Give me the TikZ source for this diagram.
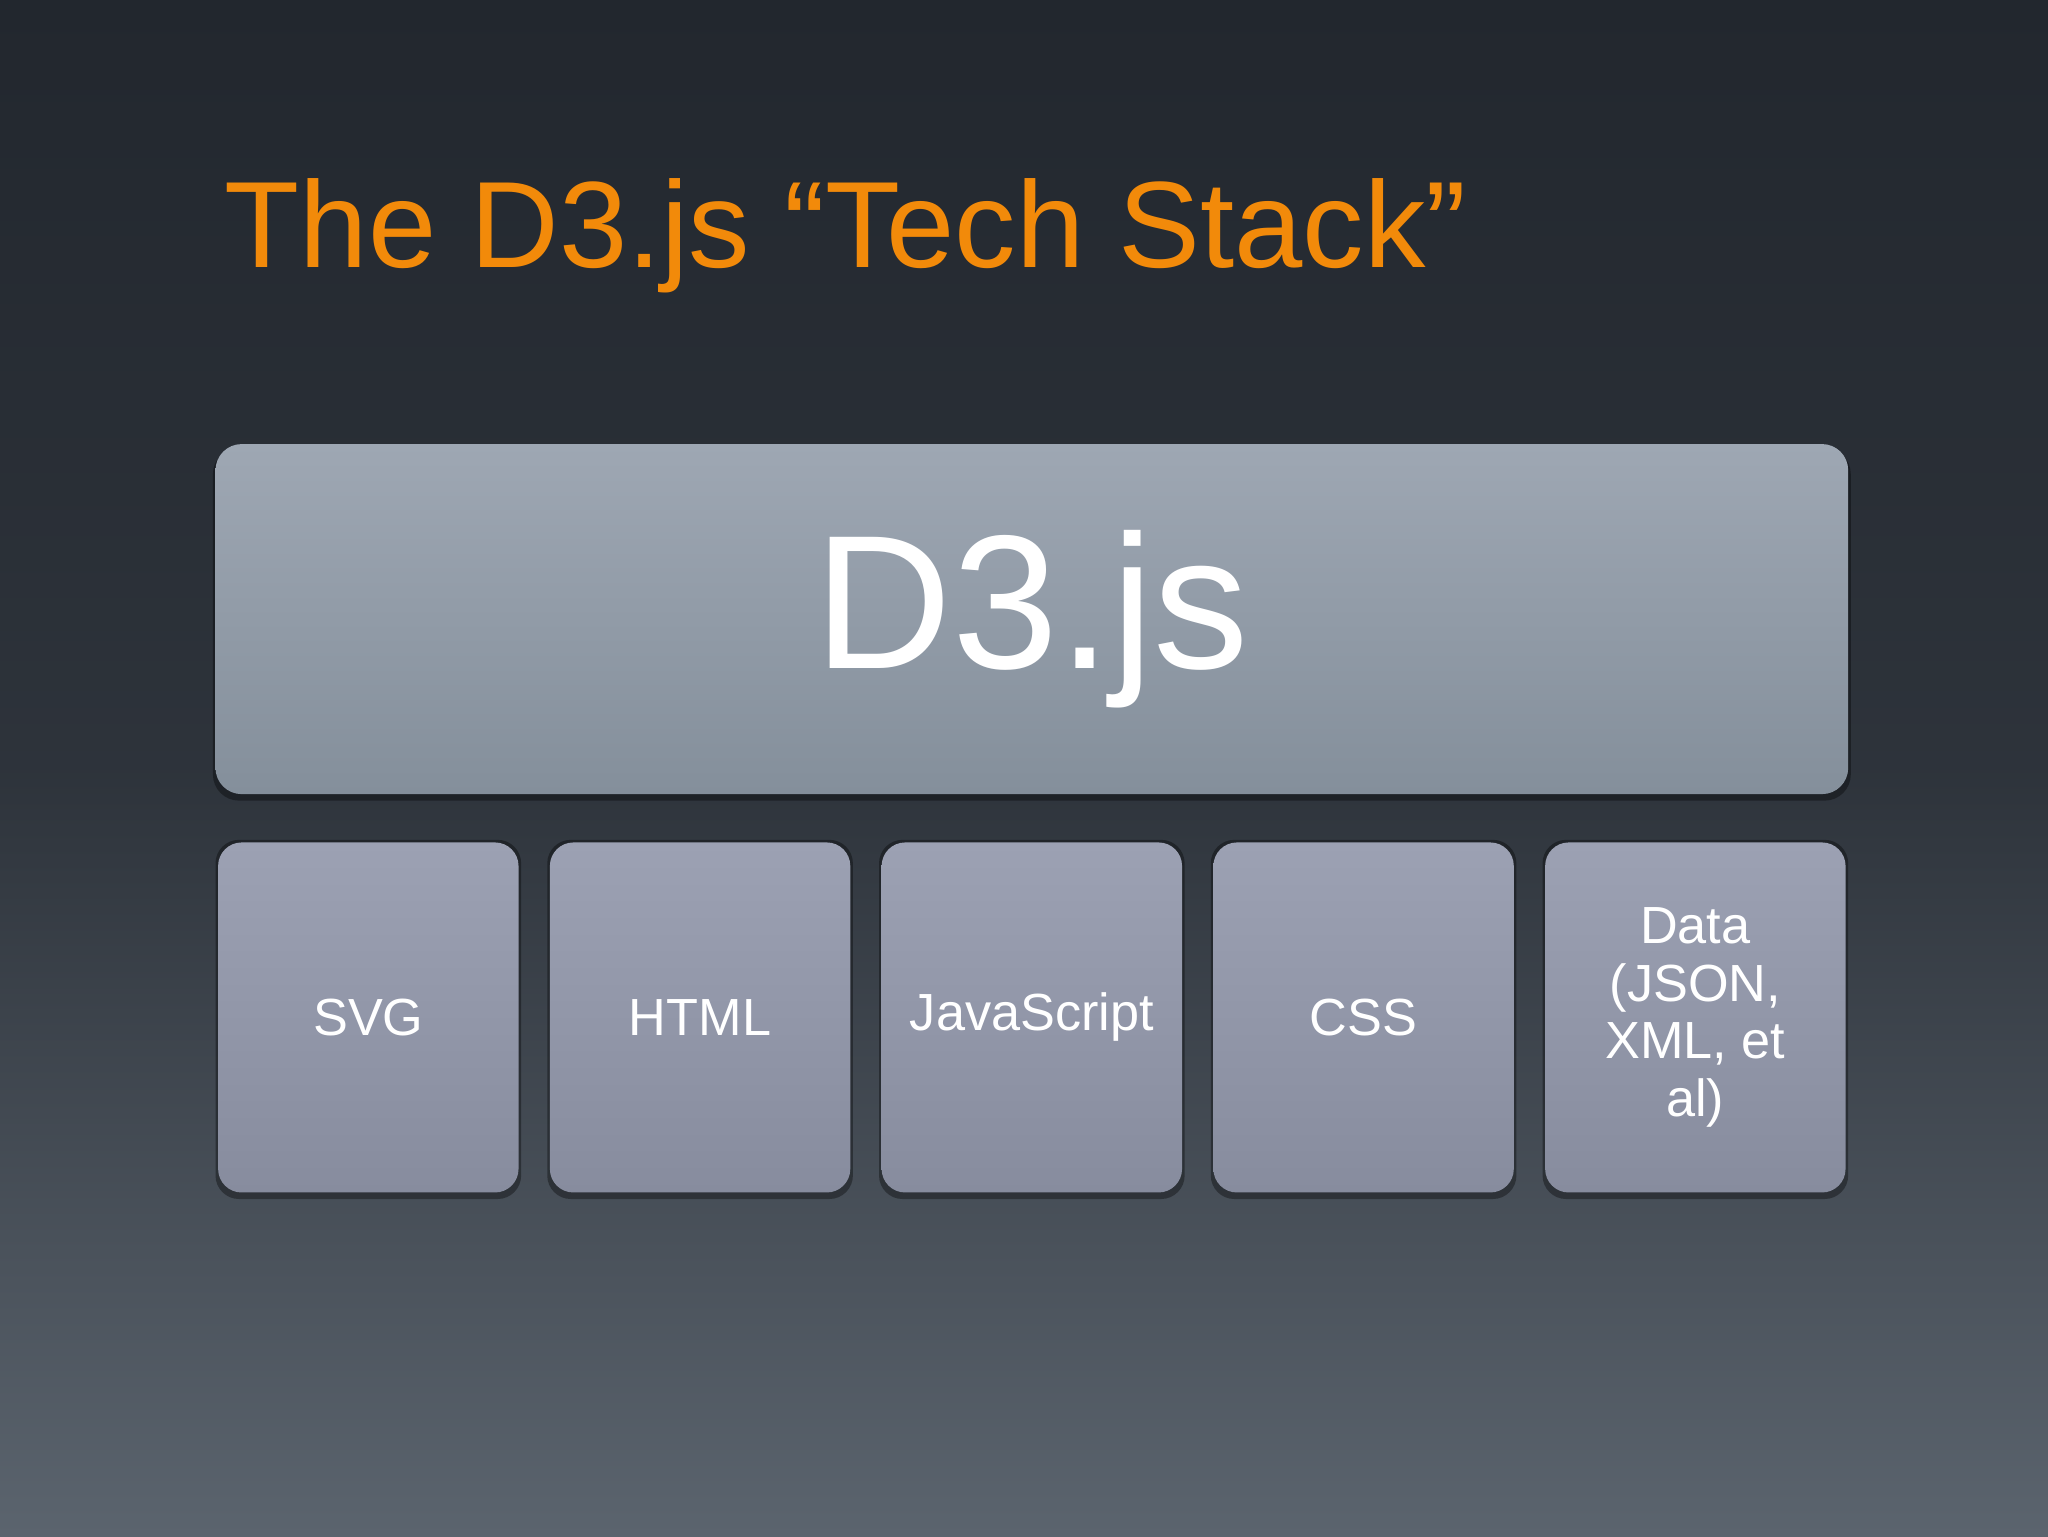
\documentclass[tikz,border=0pt]{standalone}
\usepackage{fontspec}
\setmainfont{Liberation Sans}
\definecolor{bgtop}{HTML}{22272E}
\definecolor{bgbot}{HTML}{5B646E}
\definecolor{btop}{HTML}{9EA7B3}
\definecolor{bbot}{HTML}{848F9B}
\definecolor{stop}{HTML}{9CA1B3}
\definecolor{sbot}{HTML}{878C9E}
\definecolor{titleor}{HTML}{F28A0A}
\begin{document}
\begin{tikzpicture}[x=1pt,y=1pt,
  bigbox/.style={rounded corners=20pt,top color=btop,bottom color=bbot,minimum width=1250pt,minimum height=268pt,inner sep=0pt,text=white,font=\fontsize{146}{150}\selectfont},
  smallbox/.style={rounded corners=18pt,top color=stop,bottom color=sbot,minimum width=230pt,minimum height=268pt,inner sep=0pt,text=white,align=center,font=\fontsize{40}{44}\selectfont},
  shadowbox/.style={rounded corners=20pt,fill=black,opacity=0.35}]
\shade[top color=bgtop,bottom color=bgbot,middle color=bgtop!80!bgbot] (0,0) rectangle (1568,1176);
\useasboundingbox (0,0) rectangle (1568,1176);
\node[anchor=base west,text=titleor,font=\fontsize{94}{98}\selectfont,inner sep=0pt] (title) at (172,971) {The D3.js “Tech Stack”};
\fill[shadowbox] (163,563) rectangle (1417,833);
\node[bigbox] (d3) at (790,702) {D3.js};
\foreach \n/\x/\t in {svg/282/SVG,html/536/HTML,js/790/JavaScript,css/1044/CSS,data/1298/{Data\\(JSON,\\XML, et\\al)}}{
  \fill[shadowbox,rounded corners=18pt] (\x-117,258) rectangle (\x+117,533);
  \node[smallbox] (\n) at (\x,397) {\t};
}
\end{tikzpicture}
\end{document}
